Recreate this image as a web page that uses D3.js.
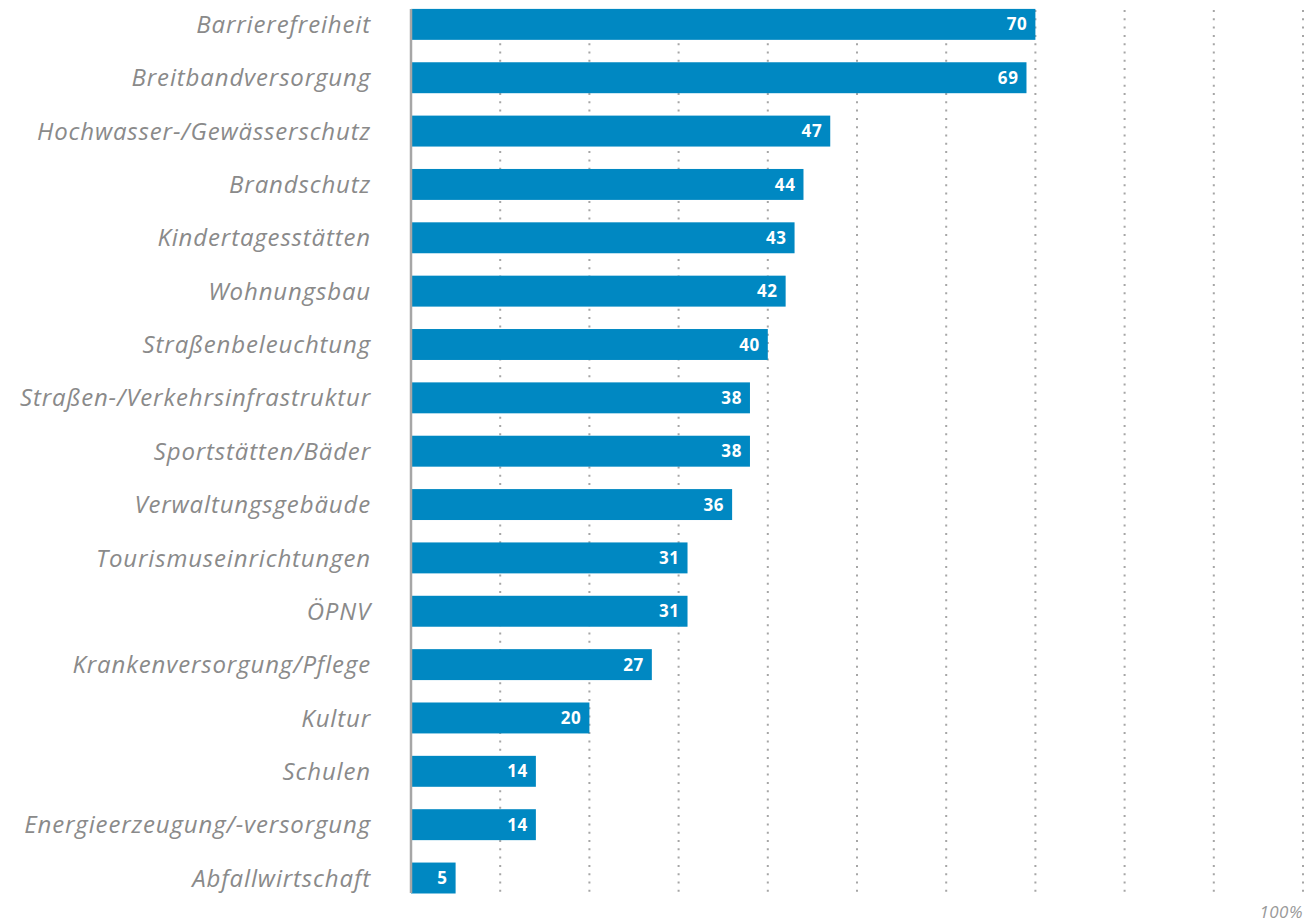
<!DOCTYPE html>
<html>
<head>
<meta charset="utf-8">
<script src="https://cdn.jsdelivr.net/npm/d3@7"></script>
<style>
  body { margin: 0; background: #fff; }
  svg { display: block; }
</style>
</head>
<body>
<div id="chart"></div>
<script>
// Kategorien und Werte (Prozent)
const categories = [
  "Barrierefreiheit", "Breitbandversorgung", "Hochwasser-/Gewässerschutz", "Brandschutz",
  "Kindertagesstätten", "Wohnungsbau", "Straßenbeleuchtung", "Straßen-/Verkehrsinfrastruktur",
  "Sportstätten/Bäder", "Verwaltungsgebäude", "Tourismuseinrichtungen", "ÖPNV",
  "Krankenversorgung/Pflege", "Kultur", "Schulen", "Energieerzeugung/-versorgung", "Abfallwirtschaft"
];
const values = [70, 69, 47, 44, 43, 42, 40, 38, 38, 36, 31, 31, 27, 20, 14, 14, 5];
const gridTicks = [10, 20, 30, 40, 50, 60, 70, 80, 90, 100];
const maxLabel = "100%";

const width = 1307, height = 922;
const x0 = 411, x1 = 1303;

const svg = d3.select("#chart").append("svg")
  .attr("width", width)
  .attr("height", height);

const x = d3.scaleLinear().domain([0, 100]).range([x0, x1]);
const y = d3.scaleBand().domain(categories).range([-2.3, 904.7]).paddingInner(0.42).paddingOuter(0.21);

// Gitterlinien (gepunktet)
svg.append("g")
  .selectAll("line")
  .data(gridTicks)
  .enter()
  .append("line")
  .attr("x1", d => x(d))
  .attr("x2", d => x(d))
  .attr("y1", 10)
  .attr("y2", 892)
  .attr("stroke", "#a6a6a6")
  .attr("stroke-width", 2)
  .attr("stroke-dasharray", "2,6.3");

// Balken
svg.append("g")
  .selectAll("rect")
  .data(values)
  .enter()
  .append("rect")
  .attr("x", x(0))
  .attr("y", (d, i) => y(categories[i]))
  .attr("width", d => x(d) - x(0))
  .attr("height", y.bandwidth())
  .attr("fill", "#0088c2");

// Werte in den Balken
svg.append("g")
  .selectAll("text")
  .data(values)
  .enter()
  .append("text")
  .attr("x", d => x(d) - 8)
  .attr("y", (d, i) => y(categories[i]) + y.bandwidth() / 2)
  .attr("dy", "0.36em")
  .attr("text-anchor", "end")
  .attr("font-family", "'Open Sans', sans-serif")
  .attr("font-weight", "bold")
  .attr("font-size", 17)
  .attr("letter-spacing", 0.6)
  .attr("fill", "#fff")
  .text(d => d);

// Kategorienbeschriftung
svg.append("g")
  .selectAll("text")
  .data(categories)
  .enter()
  .append("text")
  .attr("x", 371)
  .attr("y", d => y(d) + y.bandwidth() / 2)
  .attr("dy", "0.36em")
  .attr("text-anchor", "end")
  .attr("font-family", "'Open Sans', sans-serif")
  .attr("font-style", "italic")
  .attr("font-size", 24)
  .attr("letter-spacing", 0.85)
  .attr("fill", "#8a8a8a")
  .text(d => d);

// y-Achse
svg.append("line")
  .attr("x1", x0)
  .attr("x2", x0)
  .attr("y1", 9)
  .attr("y2", 893)
  .attr("stroke", "#a6a6a6")
  .attr("stroke-width", 2.5);

svg.append("text")
  .attr("x", x1)
  .attr("y", 918)
  .attr("text-anchor", "end")
  .attr("font-family", "'Open Sans', sans-serif")
  .attr("font-style", "italic")
  .attr("font-size", 17)
  .attr("letter-spacing", 0.5)
  .attr("fill", "#999")
  .text(maxLabel);
</script>
</body>
</html>
